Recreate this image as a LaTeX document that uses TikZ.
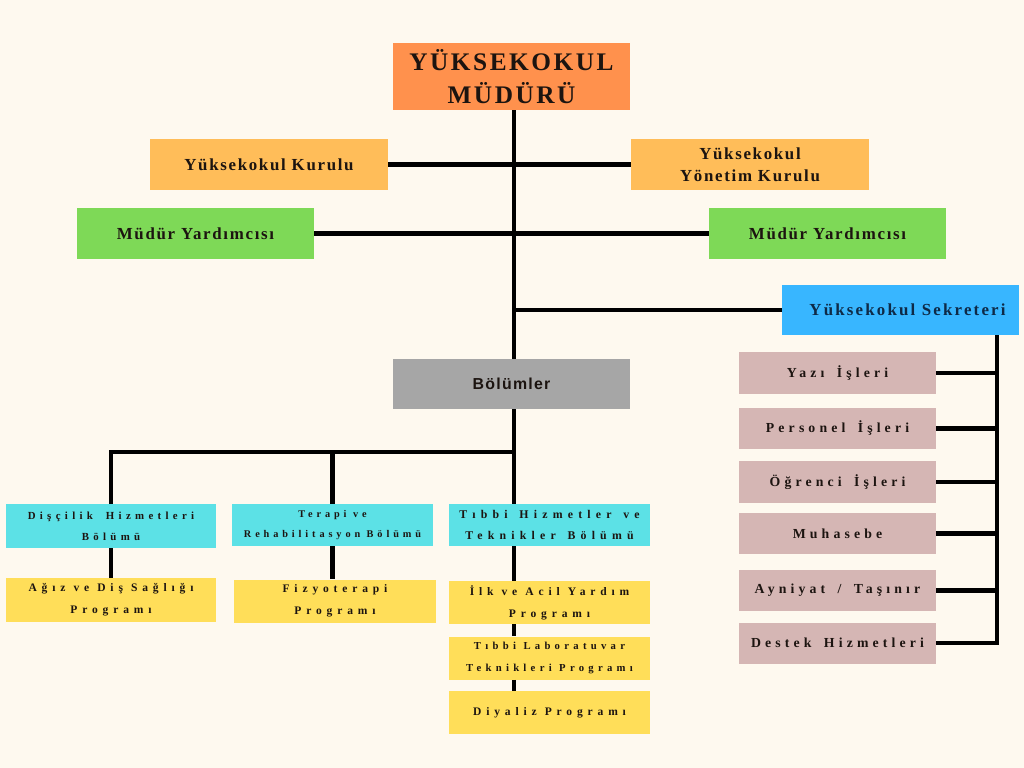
\documentclass[tikz,border=0pt]{standalone}
\usepackage{fontspec}
\setmainfont{Liberation Serif}
\newfontfamily\sanshead{Liberation Sans}
\usepackage{xcolor}
\definecolor{paper}{HTML}{FEF9EF}
\definecolor{headorange}{HTML}{FF914D}
\definecolor{boardorange}{HTML}{FFBD59}
\definecolor{deputygreen}{HTML}{7ED957}
\definecolor{secblue}{HTML}{38B6FF}
\definecolor{deptgray}{HTML}{A6A6A6}
\definecolor{deptcyan}{HTML}{5CE1E6}
\definecolor{progyellow}{HTML}{FFDE59}
\definecolor{officepink}{HTML}{D5B6B4}
\definecolor{secnavy}{HTML}{0E2A47}
\definecolor{ink}{HTML}{1C1410}

\begin{document}
\begin{tikzpicture}[x=0.025cm, y=-0.025cm,
  box/.style={rectangle, inner sep=0pt, align=center, text=ink},
  head/.style={box, fill=headorange, minimum width=5.925cm, minimum height=1.675cm,
    font={\bfseries\fontsize{18}{24}\selectfont\addfontfeature{LetterSpace=10}}},
  board/.style={box, fill=boardorange, minimum width=5.95cm, minimum height=1.275cm,
    font={\bfseries\fontsize{12}{15.5}\selectfont\addfontfeature{LetterSpace=10}}},
  deputy/.style={box, fill=deputygreen, minimum width=5.925cm, minimum height=1.275cm,
    font={\bfseries\fontsize{12}{15}\selectfont\addfontfeature{LetterSpace=10}}},
  secretary/.style={box, fill=secblue, minimum width=5.925cm, minimum height=1.25cm, text=secnavy,
    font={\bfseries\fontsize{12}{15}\selectfont\addfontfeature{LetterSpace=13}}},
  units/.style={box, fill=deptgray, minimum width=5.925cm, minimum height=1.25cm,
    font={\sanshead\bfseries\fontsize{11.3}{12}\selectfont\addfontfeature{LetterSpace=8}}},
  dept/.style={box, fill=deptcyan, minimum width=5.025cm, minimum height=1.05cm,
    font={\bfseries\fontsize{7.7}{15}\selectfont\addfontfeature{LetterSpace=40}\spaceskip=1.2em}},
  prog/.style={box, fill=progyellow, minimum width=5.025cm, minimum height=1.075cm,
    font={\bfseries\fontsize{8.2}{15.5}\selectfont\addfontfeature{LetterSpace=42}\spaceskip=0.7em}},
  office/.style={box, fill=officepink, minimum width=4.925cm, minimum height=1.025cm,
    font={\bfseries\fontsize{9.8}{12}\selectfont\addfontfeature{LetterSpace=30}\spaceskip=0.9em}},
  link/.style={line width=3.5pt}
]

  \fill[paper] (0,0) rectangle (1024,768);

  % Nodes

  \node[head]      (mudur)    at (511.5,76.5)  {YÜKSEKOKUL\\MÜDÜRÜ};
  \node[board]     (kurul)    at (269,164.5)   {Yüksekokul Kurulu};
  \node[board]     (yonetim)  at (750,164.5)   {Yüksekokul\\Yönetim Kurulu};
  \node[deputy]    (yard1)    at (195.5,233.5) {Müdür Yardımcısı};
  \node[deputy]    (yard2)    at (827.5,233.5) {Müdür Yardımcısı};
  \node[secretary] (sekreter) at (900.5,310)   {\hspace*{0.35cm}Yüksekokul Sekreteri};
  \node[units]     (bolum)    at (511.5,384)   {Bölümler};

  \node[dept, minimum width=5.25cm, minimum height=1.1cm] (dis) at (111,526) {Dişçilik Hizmetleri\\Bölümü};
  \node[dept, font={\bfseries\fontsize{7.3}{14}\selectfont\addfontfeature{LetterSpace=38}}]
                   (terapi)   at (332.5,525)   {Terapi ve\\Rehabilitasyon Bölümü};
  \node[dept, font={\bfseries\fontsize{8.4}{15.5}\selectfont\addfontfeature{LetterSpace=44}\spaceskip=1em}]
                   (tibbi)    at (549.5,525)   {Tıbbi Hizmetler ve\\Teknikler Bölümü};

  \node[prog, minimum width=5.25cm, minimum height=1.1cm] (agiz) at (111,600) {Ağız ve Diş Sağlığı\\Programı};
  \node[prog]      (fizyo)    at (335,601)     {Fizyoterapi\\Programı};
  \node[prog]      (ilk)      at (549.5,602.5) {İlk ve Acil Yardım\\Programı};
  \node[prog, font={\bfseries\fontsize{7.6}{15.5}\selectfont\addfontfeature{LetterSpace=40}\spaceskip=0.7em}]
                   (lab)      at (549.5,658)   {Tıbbi Laboratuvar\\Teknikleri Programı};
  \node[prog]      (diyaliz)  at (549.5,712.5) {Diyaliz Programı};

  \node[office]    (yazi)     at (837.5,373)   {Yazı İşleri};
  \node[office]    (personel) at (837.5,428.5) {Personel İşleri};
  \node[office]    (ogrenci)  at (837.5,482)   {Öğrenci İşleri};
  \node[office]    (muhasebe) at (837.5,533.5) {Muhasebe};
  \node[office]    (ayniyat)  at (837.5,590.5) {Ayniyat / Taşınır};
  \node[office]    (destek)   at (837.5,643)   {Destek Hizmetleri};

  \coordinate (trunk) at (514,0);
  \coordinate (bus)   at (0,452);
  \coordinate (rail)  at (997,0);

  % Edges

  \draw[link] (mudur.south -| trunk) -- (bolum.north -| trunk);
  \draw[link] (kurul.east) -- (yonetim.west);
  \draw[link] (yard1.east) -- (yard2.west);
  \draw[link] (sekreter.west -| trunk) -- (sekreter.west);

  \draw[link] (bolum.south -| trunk) -- (tibbi.north -| trunk);
  \draw[link] (dis.north) |- (bus -| trunk);
  \draw[link] (terapi.north) -- (terapi.north |- bus);

  \draw[link] (dis.south) -- (agiz.north);
  \draw[link] (terapi.south) -- (terapi.south |- fizyo.north);
  \draw[link] (tibbi.south -| trunk) -- (ilk.north -| trunk);
  \draw[link] (ilk.south -| trunk) -- (lab.north -| trunk);
  \draw[link] (lab.south -| trunk) -- (diyaliz.north -| trunk);

  \draw[link] (sekreter.south -| rail) |- (destek.east);
  \foreach \n in {yazi,personel,ogrenci,muhasebe,ayniyat}
    \draw[link] (\n.east) -- (\n.east -| rail);

\end{tikzpicture}
\end{document}
